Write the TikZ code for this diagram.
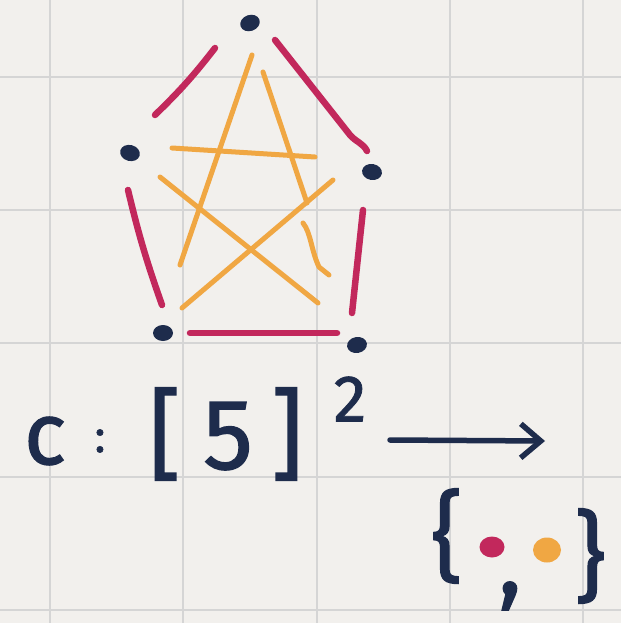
\documentclass[tikz,border=0pt]{standalone}
\usepackage{fontspec}
\setmainfont{Fira Sans}
\newfontfamily\hand{Fira Sans}[FakeBold=1.2]
\usetikzlibrary{calc,arrows.meta,shapes.geometric}
\definecolor{paper}{HTML}{F2F0ED}
\definecolor{gridc}{HTML}{D5D5D5}
\definecolor{ink}{HTML}{1E2C4C}
\definecolor{magc}{HTML}{C2285C}
\definecolor{orc}{HTML}{F0A743}
\begin{document}
\begin{tikzpicture}[x=1pt,y=-1pt,
  vert/.style={ellipse,fill=ink,inner sep=0pt,minimum width=20pt,minimum height=16pt},
  magE/.style={draw=magc,line width=6.5pt,line cap=round,line join=round},
  orE/.style={draw=orc,line width=5pt,line cap=round,line join=round},
  gridl/.style={draw=gridc,line width=1.3pt},
  inktext/.style={text=ink,inner sep=0pt},
  colordot/.style={ellipse,inner sep=0pt}]
\fill[paper] (0,0) rectangle (621,623);
\useasboundingbox (0,0) rectangle (621,623);
% grid paper
\foreach \x in {50,183,317,450,583} \draw[gridl] (\x,0) -- (\x,623);
\foreach \y in {77,210,343,477,610} \draw[gridl] (0,\y) -- (621,\y);
% vertices
\node[vert,rotate=20] (T) at (250,23) {};
\node[vert,rotate=-15] (L) at (130,153) {};
\node[vert,rotate=-10] (R) at (372,172) {};
\node[vert] (BL) at (163,333) {};
\node[vert,rotate=10] (BR) at (357,345) {};
% magenta pentagon edges
\draw[magE] ($(T)+(-35,25)$) to[bend left=4] ($(L)+(25,-38)$);
\draw[magE] ($(T)+(25,17)$) -- ($(R)+(-22,-37)$) .. controls ($(R)+(-16,-30)$) and ($(R)+(-9,-29)$) .. ($(R)+(-5,-21)$);
\draw[magE] ($(L)+(-2,37)$) to[bend right=3] ($(BL)+(-1,-28)$);
\draw[magE] ($(R)+(-9,38)$) -- ($(BR)+(-5,-32)$);
\draw[magE] ($(BL)+(27,0)$) -- ($(BR)+(-20,-12)$);
% orange pentagram edges
\draw[orE] ($(T)+(2,32)$) -- ($(BL)+(17,-68)$);
\draw[orE] ($(T)+(13,49)$) -- ($(BR)+(-50,-142)$);
\draw[orE] ($(BR)+(-54,-122)$) .. controls ($(BR)+(-46,-112)$) and ($(BR)+(-46,-95)$) .. ($(BR)+(-38,-78)$) -- ($(BR)+(-28,-70)$);
\draw[orE] ($(L)+(42,-5)$) -- ($(R)+(-57,-15)$);
\draw[orE] ($(L)+(30,24)$) -- ($(BR)+(-39,-42)$);
\draw[orE] ($(R)+(-39,8)$) -- ($(BL)+(19,-25)$);
% formula
\node[inktext,font=\hand\fontsize{88}{88}\selectfont] (c) at (45,441) {c};
\node[inktext,font=\hand\fontsize{46}{46}\selectfont] (colon) at (100,441) {:};
\node[inktext,font=\hand\fontsize{100}{100}\selectfont] (dom) at (226,434) {[\hspace{22pt}5\hspace{18pt}]};
\node[inktext,font=\hand\fontsize{66}{66}\selectfont] (sq) at (350,399) {2};
\coordinate (a0) at (390,440);
\coordinate (a1) at (545,441);
\draw[draw=ink,line width=5.5pt,line cap=round,-{Straight Barb[length=20pt,width=34pt,line width=5.5pt]}] (a0) -- (a1);
% codomain
\node[inktext,font=\hand\fontsize{98}{98}\selectfont] (lb) at (447,536) {\{};
\node[colordot,fill=magc,minimum width=25pt,minimum height=21pt] (pd) at (492,547) {};
\node[inktext,font=\hand\fontsize{98}{98}\selectfont] (cm) at (510,596) {,};
\node[colordot,fill=orc,minimum width=28pt,minimum height=25pt] (od) at (547,550) {};
\node[inktext,font=\hand\fontsize{98}{98}\selectfont] (rb) at (590,556) {\}};
\end{tikzpicture}
\end{document}
